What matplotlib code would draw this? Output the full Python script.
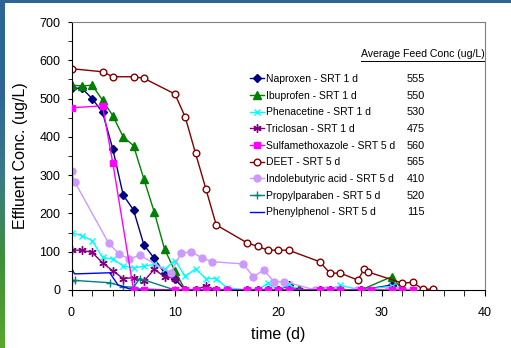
import numpy as np
import matplotlib
matplotlib.use('Agg')
import matplotlib.pyplot as plt
from matplotlib.lines import Line2D
from matplotlib.colors import LinearSegmentedColormap

plt.rcParams['font.family'] = ['Liberation Sans', 'DejaVu Sans']

# ---- data ----
nap_d = [0, 1, 2, 3, 4, 5, 6, 7, 8, 9, 10, 11, 12, 13, 14, 15, 17, 18, 19, 20, 21, 22, 24, 25, 26, 28, 31, 32]
nap_v = [527, 527, 500, 464, 368, 248, 209, 118, 83, 44, 28, 0, 0, 0, 0, 0, 0, 0, 0, 0, 12, 0, 0, 0, 0, 0, 13, 0]

ibu_d = [0, 1, 2, 3, 4, 5, 6, 7, 8, 9, 10, 11, 12, 13, 14, 15, 17, 18, 19, 20, 21, 22, 24, 25, 26, 28, 31, 32]
ibu_v = [535, 533, 535, 496, 455, 400, 377, 290, 204, 107, 50, 0, 0, 0, 0, 0, 0, 0, 0, 0, 0, 0, 0, 0, 0, 0, 35, 0]

phe_d = [0, 1, 2, 3, 4, 5, 6, 7, 8, 9, 10, 11, 12, 13, 14, 15, 17, 18, 19, 20, 21, 22, 24, 25, 26, 28, 31, 32]
phe_v = [150, 142, 129, 85, 81, 63, 58, 62, 67, 54, 77, 36, 55, 30, 30, 6, 0, 0, 18, 0, 15, 0, 0, 0, 12, 0, 10, 0]

tri_d = [0, 1, 2, 3, 4, 5, 6, 7, 8, 9, 10, 11, 12, 13, 14, 15, 17, 18, 19, 20, 21, 22, 24, 25, 26, 28, 31, 32]
tri_v = [104, 104, 98, 71, 50, 30, 32, 23, 54, 35, 30, 0, 0, 11, 0, 0, 0, 0, 0, 0, 0, 0, 0, 0, 0, 0, 0, 0]

sul_d = [0, 3, 4, 6, 7, 10, 11, 12, 13, 14, 15, 17, 18, 19, 20, 21, 24, 25, 26, 28, 29, 31, 32, 33]
sul_v = [476, 481, 331, 0, 0, 0, 0, 0, 0, 0, 0, 0, 0, 0, 0, 0, 0, 0, 0, 0, 0, 0, 0, 0]

deet_d = [0, 3, 4, 6, 7, 10, 11, 12, 13, 14, 17, 18, 19, 20, 21, 24, 25, 26, 27.7, 28.3, 28.7, 32, 33, 34, 35]
deet_v = [578, 570, 557, 557, 553, 512, 452, 357, 264, 170, 123, 114, 104, 104, 104, 74, 44, 44, 26, 54, 47, 18, 20, 2, 2]

ind_d = [0, 0, 0.3, 3.6, 4.6, 5.6, 6.6, 9.6, 10.6, 11.6, 12.6, 13.6, 16.6, 17.6, 18.6, 19.6, 20.6, 23.6, 24.6, 25.6, 27.6, 30.6, 31.6]
ind_v = [335, 310, 283, 122, 94, 81, 91, 45, 96, 100, 84, 74, 68, 35, 52, 21, 22, 0, 0, 0, 0, 0, 0]

pro_d = [0, 0.3, 3.7, 5, 6, 6.6, 10, 11, 13, 15, 18, 22, 28]
pro_v = [24, 25, 19, 9, 7, 30, 0, 0, 0, 0, 0, 0, 0]

php_d = [0, 0.1, 0.3, 3.7, 4.5, 5.6, 10, 20, 28]
php_v = [72, 52, 42, 45, 13, 3, 0, 0, 0]

labels = ['Naproxen - SRT 1 d', 'Ibuprofen - SRT 1 d', 'Phenacetine - SRT 1 d',
          'Triclosan - SRT 1 d', 'Sulfamethoxazole - SRT 5 d', 'DEET - SRT 5 d',
          'Indolebutyric acid - SRT 5 d', 'Propylparaben - SRT 5 d', 'Phenylphenol - SRT 5 d']
feed = [555, 550, 530, 475, 560, 565, 410, 520, 115]

fig = plt.figure(figsize=(5.11, 3.48), dpi=100)

# slide frame: blue strip on top, blue-to-green strip on the left
top = fig.add_axes([0, 1 - 3 / 348, 1, 3 / 348])
top.set_facecolor('#2f6496')
top.set_xticks([]); top.set_yticks([])
for s in top.spines.values():
    s.set_visible(False)
side = fig.add_axes([0, 0, 5 / 511, 1])
cmap = LinearSegmentedColormap.from_list('frame', ['#2f6496', '#2f6496', '#3a7a8a', '#3f8f3a', '#5aa62e'])
side.imshow(np.linspace(0, 1, 100).reshape(-1, 1), aspect='auto', cmap=cmap)
side.axis('off')

ax = fig.add_axes([71.5 / 511, 58 / 348, 413.5 / 511, 268 / 348])

lw = 1.0
ax.plot(nap_d, nap_v, color='#000080', marker='D', ms=3.8, lw=lw, label=labels[0])
ax.plot(ibu_d, ibu_v, color='#008000', marker='^', ms=5.5, lw=lw, label=labels[1])
ax.plot(phe_d, phe_v, color='#00FFFF', marker='x', ms=5, mew=1.0, lw=lw, label=labels[2])
ax.plot(tri_d, tri_v, color='#800080', marker=(6, 2, 0), ms=6, mew=1.0, lw=lw, label=labels[3])
ax.plot(sul_d, sul_v, color='#FF00FF', marker='s', ms=4.8, lw=lw, label=labels[4], zorder=4)
ax.plot(deet_d, deet_v, color='#800000', marker='o', ms=4.8, mfc='white', lw=lw, label=labels[5])
ax.plot(ind_d, ind_v, color='#CC99FF', marker='o', ms=5, lw=lw, markevery=list(range(1, len(ind_d))), label=labels[6])
ax.plot(pro_d, pro_v, color='#008080', marker='+', ms=6, mew=1.0, lw=lw, label=labels[7])
ax.plot(php_d, php_v, color='#0000FF', lw=lw, label=labels[8])

ax.set_xlim(0, 40)
ax.set_ylim(0, 700)
ax.set_xticks([0, 10, 20, 30, 40])
ax.set_xticks(np.arange(0, 41, 2), minor=True)
ax.set_yticks(np.arange(0, 701, 100))
ax.set_yticks(np.arange(0, 701, 50), minor=True)
ax.tick_params(axis='both', which='both', direction='out', labelsize=9, colors='black')
ax.tick_params(axis='x', which='both', length=4, pad=8)
ax.tick_params(axis='y', which='both', length=3, pad=5)
ax.spines['top'].set_color('#808080')
ax.spines['right'].set_color('#808080')
ax.spines['top'].set_linewidth(0.8)
ax.spines['right'].set_linewidth(0.8)
ax.set_xlabel('time (d)', fontsize=11.5, labelpad=6)
ax.set_ylabel('Effluent Conc. (ug/L)', fontsize=11.5, labelpad=8)

leg = ax.legend(loc='upper left', bbox_to_anchor=(0.432, 0.806), frameon=False, fontsize=7.5,
                handlelength=1.35, handletextpad=0.2, labelspacing=0.64, borderpad=0, borderaxespad=0)

ax.text(1.0, 0.88, 'Average Feed Conc (ug/L)', transform=ax.transAxes, ha='right', va='center', fontsize=7.6)
ax.add_line(Line2D([0.70, 1.0], [0.856, 0.856], transform=ax.transAxes, color='black', lw=0.7, clip_on=False))

fig.canvas.draw()
inv = ax.transAxes.inverted()
for t, val in zip(leg.get_texts(), feed):
    bb = t.get_window_extent()
    yc = inv.transform((0, (bb.y0 + bb.y1) / 2))[1]
    ax.text(0.811, yc, str(val), transform=ax.transAxes, ha='left', va='center', fontsize=7.8)

fig.savefig('out.png', dpi=100)
